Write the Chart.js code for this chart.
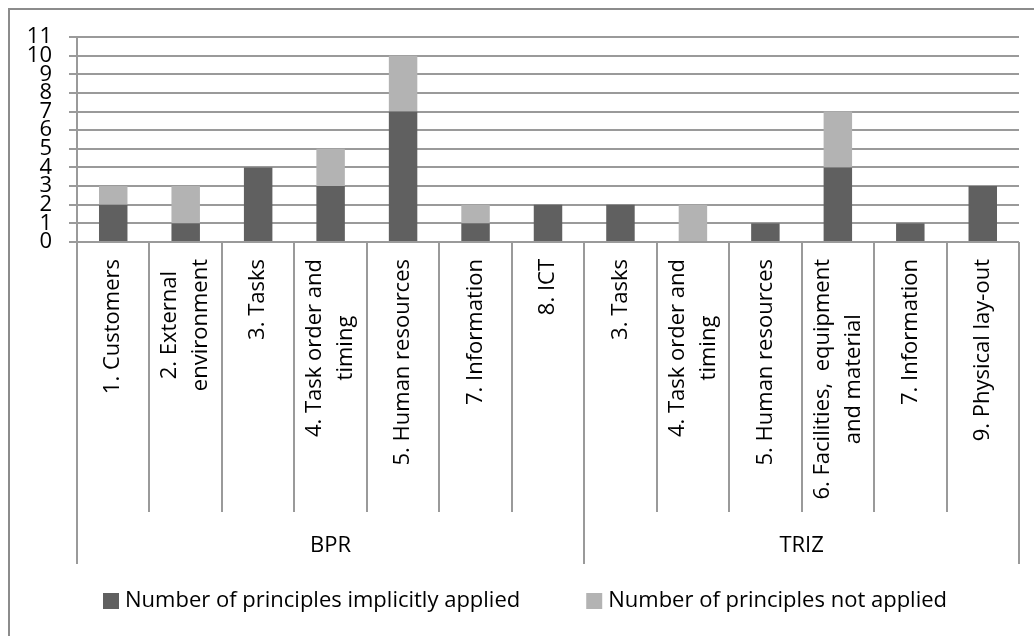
<!DOCTYPE html>
<html>
<head>
<meta charset="utf-8">
<script src="https://cdn.jsdelivr.net/npm/chart.js@4.4.1/dist/chart.umd.min.js"></script>
<style>
  html, body { margin: 0; padding: 0; background: #fff; }
  #frame { position: absolute; left: 8px; top: 8px; width: 1100px; height: 700px;
           border-left: 2px solid #8c8c8c; border-top: 2px solid #8c8c8c; }
  #wrap { position: absolute; left: 0; top: 0; width: 1034px; height: 636px; }
</style>
</head>
<body>
<div id="frame"></div>
<div id="wrap"><canvas id="chart"></canvas></div>
<script>
// category labels (each entry = lines of the rotated label)
const categories = [
  ['1. Customers'],
  ['2. External', 'environment'],
  ['3. Tasks'],
  ['4. Task order and', 'timing'],
  ['5. Human resources'],
  ['7. Information'],
  ['8. ICT'],
  ['3. Tasks'],
  ['4. Task order and', 'timing'],
  ['5. Human resources'],
  ['6. Facilities,  equipment', 'and material'],
  ['7. Information'],
  ['9. Physical lay-out']
]
const groups = ['BPR', 'TRIZ']
const groupSizes = [7, 6]

const implicitApplied = [2, 1, 4, 3, 7, 1, 2, 2, 0, 1, 4, 1, 3]
const notApplied = [1, 2, 0, 2, 3, 1, 0, 0, 2, 0, 3, 0, 0]

const yTicks = [0, 1, 2, 3, 4, 5, 6, 7, 8, 9, 10, 11]

const labelFont = `22px "Open Sans"`
const lineColor = `#9a9a9a`

// draws the two-level category axis and the legend below the plot
const categoryAxis = {
  id: `categoryAxis`,
  afterDraw(chart) {
    const { ctx, chartArea, scales: { x } } = chart
    const half = (x.getPixelForValue(1) - x.getPixelForValue(0)) / 2
    const top = chartArea.bottom
    const catBottom = top + 270
    const grpBottom = top + 322

    // boundaries where a group starts / ends
    const groupEdges = [0]
    groupSizes.forEach(n => groupEdges.push(groupEdges[groupEdges.length - 1] + n))

    ctx.save()
    ctx.strokeStyle = lineColor
    ctx.lineWidth = 2
    for (let b = 0; b <= categories.length; b++) {
      const px = Math.round(x.getPixelForValue(b) - half)
      ctx.beginPath()
      ctx.moveTo(px, top)
      ctx.lineTo(px, groupEdges.includes(b) ? grpBottom : catBottom)
      ctx.stroke()
    }

    // rotated category labels: block anchored at the axis, lines centred in the block
    ctx.fillStyle = `#000`
    ctx.font = labelFont
    ctx.textAlign = `center`
    ctx.textBaseline = `middle`
    const lh = 31
    categories.forEach((lines, i) => {
      const cx = x.getPixelForValue(i)
      const blockW = Math.max(...lines.map(l => ctx.measureText(l).width))
      ctx.save()
      ctx.translate(cx, top + 17)
      ctx.rotate(-Math.PI / 2)
      lines.forEach((l, k) => {
        ctx.fillText(l, -blockW / 2, (k - (lines.length - 1) / 2) * lh)
      })
      ctx.restore()
    })

    // group labels
    let start = 0
    groups.forEach((g, gi) => {
      const end = start + groupSizes[gi] - 1
      const gx = (x.getPixelForValue(start) + x.getPixelForValue(end)) / 2
      ctx.fillText(g, gx, top + 304)
      start = end + 1
    })

    // legend
    ctx.textAlign = `left`
    let lx = 103
    const ly = top + 359
    chart.data.datasets.forEach(ds => {
      ctx.fillStyle = ds.backgroundColor
      ctx.fillRect(lx, ly - 8, 16, 16)
      ctx.fillStyle = `#000`
      ctx.fillText(ds.label, lx + 22, ly)
      lx += 22 + ctx.measureText(ds.label).width + 66
    })
    ctx.restore()
  }
}

new Chart(document.querySelector(`#chart`).getContext(`2d`), {
  type: `bar`,
  data: {
    labels: categories,
    datasets: [
      {
        label: `Number of principles implicitly applied`,
        data: implicitApplied,
        backgroundColor: `#606060`,
        barPercentage: 0.393,
        categoryPercentage: 1
      },
      {
        label: `Number of principles not applied`,
        data: notApplied,
        backgroundColor: `#b3b3b3`,
        barPercentage: 0.393,
        categoryPercentage: 1
      }
    ]
  },
  options: {
    responsive: true,
    maintainAspectRatio: false,
    animation: false,
    layout: { padding: { top: 37, right: 15, bottom: 86, left: 0 } },
    plugins: {
      tooltip: { enabled: false },
      legend: { display: false }
    },
    scales: {
      x: {
        stacked: true,
        grid: { display: false },
        border: { display: false },
        ticks: { display: false },
        afterFit: scale => { scale.height = 308 }
      },
      y: {
        stacked: true,
        min: yTicks[0],
        max: yTicks[yTicks.length - 1],
        afterFit: scale => { scale.width = 77 },
        afterBuildTicks: scale => { scale.ticks = yTicks.map(v => ({ value: v })) },
        grid: { color: lineColor, lineWidth: 2, tickLength: 8 },
        border: { color: lineColor, width: 2 },
        ticks: {
          autoSkip: false,
          padding: 17,
          color: `#000`,
          font: { family: `"Open Sans"`, size: 22, lineHeight: 1 }
        }
      }
    }
  },
  plugins: [categoryAxis]
})
</script>
</body>
</html>
